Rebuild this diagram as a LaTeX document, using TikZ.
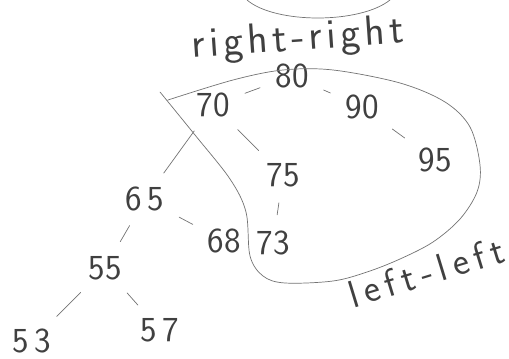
\documentclass[tikz,border=0pt]{standalone}
\usepackage{tikz}
\newcommand{\sk}{\hspace{2.5pt}}
\newcommand{\wk}{\hspace{3.6pt}}
\begin{document}
\begin{tikzpicture}[x=0.02cm, y=-0.02cm, font=\sffamily]
    % --- Estilos ---
    \tikzset{
        key/.style={text=black!75, inner sep=2pt, font=\sffamily\fontsize{20}{24}\selectfont},
        edge/.style={color=black!55, thin, line cap=round, shorten >=7pt, shorten <=7pt},
        sketch/.style={color=black!55, thin, line cap=round},
        caption/.style={text=black!75, font=\sffamily\fontsize{24}{28}\selectfont}
    }
    \useasboundingbox (0,0) rectangle (509,358);

    % --- Arco superior (cortado) ---
    \draw[sketch] (247,0) .. controls (275,24) and (360,24) .. (390,0);

    % --- Etiquetas ---
    \node[caption, rotate=4] (rr) at (298,40) {r\sk i\sk g\sk h\sk t\sk -\sk r\sk i\sk g\sk h\sk t};
    \node[caption, rotate=17, font=\sffamily\fontsize{22}{26}\selectfont] (ll) at (426,272) {l\wk e\wk f\wk t\wk -\wk l\wk e\wk f\wk t};

    % --- Nodos del árbol ---
    \node[key] (n80) at (292,76) {80};
    \node[key] (n70) at (213,105) {70};
    \node[key] (n90) at (362,107) {90};
    \node[key] (n95) at (435,160) {95};
    \node[key] (n75) at (283,175) {75};
    \node[key] (n65) at (145,199) {6\,5};
    \node[key] (n68) at (224,241) {68};
    \node[key] (n73) at (273,243) {73};
    \node[key] (n55) at (105,268) {55};
    \node[key] (n53) at (32,341) {5\,3};
    \node[key] (n57) at (160,330) {5\,7};

    % --- Aristas ---
    \draw[edge] (n80) -- (n70);
    \draw[edge] (n80) -- (n90);
    \draw[edge] (n90) -- (n95);
    \draw[edge] (n70) -- (n75);
    \draw[edge] (n70) -- (n65);
    \draw[edge] (n75) -- (n73);
    \draw[edge] (n65) -- (n68);
    \draw[edge] (n65) -- (n55);
    \draw[edge] (n55) -- (n53);
    \draw[edge] (n55) -- (n57);

    % --- Contorno de la rotación ---
    \draw[sketch] plot[smooth, tension=0.55] coordinates {
        (160,92) (195,135) (230,179) (246,212) (250,256) (263,276) (285,283)
        (333,281) (367,272) (400,259) (433,242) (460,219) (477,192) (480,165)
        (470,127) (445,102) (400,83) (333,70) (283,70) (233,80) (168,100)};
\end{tikzpicture}
\end{document}
